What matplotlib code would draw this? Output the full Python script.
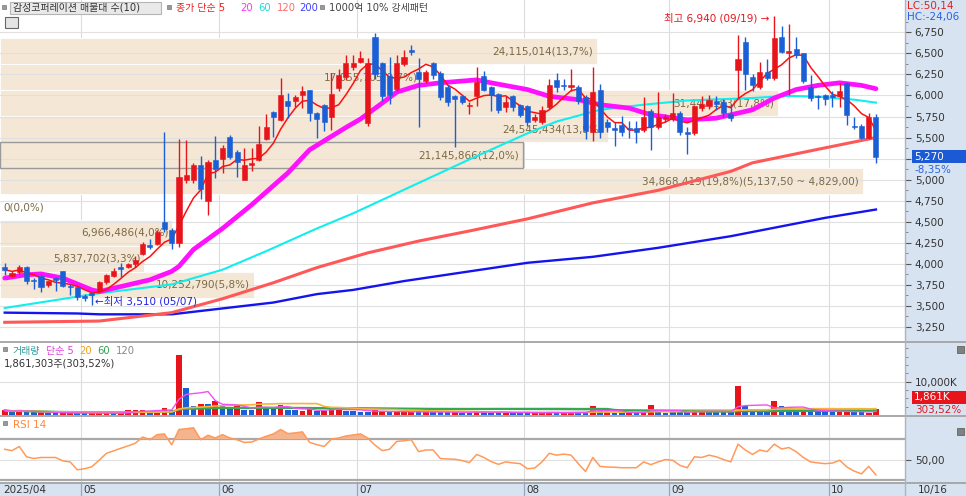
import numpy as np
import pandas as pd
import matplotlib
matplotlib.use("Agg")
import matplotlib.pyplot as plt
from matplotlib.patches import Rectangle
from matplotlib.lines import Line2D
import matplotlib.transforms as mtransforms

plt.rcParams['font.family'] = ['DejaVu Sans', 'Noto Sans CJK KR']
plt.rcParams['axes.unicode_minus'] = False

# ---------------- data ----------------
month_names = ['2025/04', '05', '06', '07', '08', '09', '10']
days_04 = [16, 17, 18, 21, 22, 23, 24, 25, 28, 29, 30]
days_05 = [2, 7, 8, 9, 12, 13, 14, 15, 16, 19, 20, 21, 22, 23, 26, 27, 28, 29, 30]
days_06 = [2, 4, 5, 9, 10, 11, 12, 13, 16, 17, 18, 19, 20, 23, 24, 25, 26, 27, 30]
days_07 = [1, 2, 3, 4, 7, 8, 9, 10, 11, 14, 15, 16, 17, 18, 21, 22, 23, 24, 25, 28, 29, 30, 31]
days_08 = [1, 4, 5, 6, 7, 8, 11, 12, 13, 14, 18, 19, 20, 21, 22, 25, 26, 27, 28, 29]
days_09 = [1, 2, 3, 4, 5, 8, 9, 10, 11, 12, 15, 16, 17, 18, 19, 22, 23, 24, 25, 26, 29, 30]
days_10 = [1, 2, 10, 13, 14, 15, 16]

opens = [3960, 3860, 3900, 3960, 3810, 3850, 3745, 3830, 3910, 3740,
         3720, 3620, 3650, 3680, 3780, 3850, 3960, 3960, 4000, 4120,
         4220, 4240, 4500, 4400, 4250, 4990, 5000, 5175, 4750, 5230,
         5240, 5510, 5330, 5000, 5170, 5230, 5480, 5800, 5710, 5940,
         5930, 6000, 6065, 5790, 5890, 5750, 6090, 6220, 6335, 6400,
         5670, 6700, 6380, 6230, 6080, 6370, 6540, 6280, 6170, 6380,
         6270, 6100, 5990, 5990, 5870, 5990, 6230, 6100, 6020, 5860,
         5990, 5890, 5870, 5710, 5690, 5860, 6180, 6120, 6100, 6100,
         5980, 5560, 6070, 5690, 5610, 5650, 5610, 5610, 5590, 5810,
         5630, 5720, 5720, 5790, 5570, 5550, 5850, 5880, 5930, 5920,
         5780, 6300, 6630, 6220, 6100, 6280, 6210, 6690, 6510, 6550,
         6500, 6100, 5995, 6000, 6000, 5990, 6150, 5640, 5640, 5500,
         5750]
highs = [4010, 3920, 3990, 3970, 3830, 3870, 3800, 3840, 3920, 3760,
         3730, 3640, 3670, 3800, 3880, 3950, 4010, 4010, 4090, 4260,
         4300, 4400, 5570, 4420, 5480, 5470, 5200, 5275, 5230, 5520,
         5410, 5530, 5350, 5370, 5370, 5640, 5780, 5810, 6210, 6030,
         6000, 6110, 6070, 5800, 5900, 6265, 6310, 6475, 6485, 6530,
         6450, 6740, 6400, 6460, 6480, 6540, 6600, 6450, 6300, 6400,
         6290, 6120, 6000, 6000, 5920, 6340, 6290, 6110, 6030, 5990,
         6000, 5900, 5890, 5780, 5870, 6190, 6270, 6200, 6320, 6130,
         6000, 6340, 6140, 5720, 5680, 5760, 5700, 5700, 5980, 5840,
         6040, 5780, 6030, 5810, 5620, 5880, 5990, 6000, 5990, 5960,
         5900, 6720, 6690, 6250, 6400, 6430, 6940, 6830, 6850, 6700,
         6510, 6240, 6010, 6020, 6050, 6150, 6160, 5740, 5660, 5790,
         5780]
lows = [3870, 3840, 3880, 3760, 3700, 3660, 3720, 3680, 3720, 3630,
        3570, 3560, 3510, 3660, 3760, 3840, 3840, 3950, 3960, 4100,
        4170, 4220, 4380, 4170, 4200, 4960, 4965, 4770, 4580, 5025,
        5080, 5250, 5030, 4990, 5100, 5220, 5470, 5510, 5700, 5730,
        5860, 5850, 5700, 5490, 5580, 5590, 6050, 6180, 6300, 6380,
        5640, 6200, 5940, 5900, 6050, 6350, 6480, 5620, 6150, 6200,
        5950, 5880, 5390, 5900, 5780, 5880, 6050, 5820, 5790, 5800,
        5820, 5750, 5640, 5680, 5660, 5840, 6040, 6060, 6050, 5900,
        5480, 5460, 5500, 5560, 5400, 5520, 5500, 5440, 5560, 5350,
        5600, 5680, 5700, 5530, 5300, 5530, 5820, 5840, 5830, 5740,
        5700, 5970, 6060, 6050, 6080, 6180, 6180, 6500, 6000, 6450,
        6150, 5940, 5840, 5890, 5860, 5860, 5650, 5600, 5480, 5480,
        5200]
closes = [3930, 3890, 3960, 3790, 3790, 3720, 3790, 3810, 3740, 3720,
          3600, 3590, 3630, 3780, 3870, 3910, 3940, 4000, 4050, 4240,
          4200, 4380, 4410, 4250, 5030, 5050, 5170, 4890, 5210, 5125,
          5380, 5270, 5210, 5170, 5200, 5420, 5630, 5740, 6000, 5880,
          5985, 6055, 5790, 5720, 5680, 6020, 6240, 6385, 6390, 6450,
          6390, 6250, 5990, 6000, 6390, 6460, 6520, 6200, 6280, 6240,
          5980, 5920, 5960, 5920, 5880, 6160, 6070, 6000, 5830, 5920,
          5860, 5770, 5680, 5750, 5830, 6120, 6100, 6110, 6120, 5930,
          5580, 6040, 5560, 5620, 5590, 5570, 5600, 5560, 5750, 5630,
          5740, 5740, 5790, 5570, 5540, 5870, 5900, 5950, 5900, 5790,
          5730, 6430, 6260, 6130, 6280, 6210, 6680, 6520, 6530, 6480,
          6170, 5970, 5980, 5960, 5985, 6050, 5770, 5620, 5500, 5750,
          5270]

# volume in thousand shares
volumes_k = [1400, 900, 1400, 900, 900, 800, 700, 600, 600, 600,
             600, 600, 600, 600, 600, 600, 700, 1400, 1400, 1600,
             900, 1300, 2200, 1400, 17900, 8100, 2600, 3300, 3300, 4300,
             2600, 2100, 2600, 1600, 1600, 3800, 2100, 2100, 3100, 1400,
             1400, 1300, 1800, 1300, 1300, 2100, 2100, 1300, 1300, 900,
             900, 1400, 1100, 900, 900, 1000, 900, 1100, 800, 800,
             900, 800, 1000, 700, 700, 1200, 800, 700, 900, 700,
             600, 700, 800, 600, 600, 900, 700, 600, 800, 800,
             1000, 2800, 1100, 800, 700, 600, 700, 700, 1000, 3100,
             1000, 700, 800, 900, 900, 1600, 1000, 1000, 900, 1000,
             1000, 8600, 2600, 1300, 1300, 1300, 4300, 2800, 1800, 1600,
             1400, 1300, 1200, 1200, 900, 1000, 1100, 900, 1000, 613.24,
             1861.303]
volume_colors = ("rbrbbrbbrr" "bbrrrbrrrr" "brrbrbbrbr" "bbrbbrbbrb" "brrbrrrbbb"
                 "brrbrrrbrb" "bbrbbrbbbr" "bbbrrrbrrb" "brbrbbrbrr" "bbbbbrrbbb"
                 "brbbbbrbbb" "rbbbbrrbbr" "r")

rsi14 = [60, 58.7, 62.7, 52.7, 51, 52, 52, 52, 48.7, 47.7,
         40, 41, 43, 49.3, 56, 58.5, 61, 63.3, 66, 72,
         69.3, 74.3, 75, 64.3, 79.3, 80, 81, 69.3, 73.7, 71,
         74.3, 71, 69.3, 66.7, 67, 70, 72.7, 75, 79.3, 75.3,
         76, 77, 66.7, 64.5, 62.7, 70, 71, 73, 74, 75,
         71, 64, 58.7, 60, 67.7, 68.3, 69.3, 57.7, 59.3, 59.3,
         51, 50.5, 50.3, 49, 47, 55, 52, 48, 45.3, 47.7,
         46.7, 46, 41, 41.7, 47.7, 56, 54.3, 55.3, 54.3, 46,
         38.3, 52, 43.3, 42.7, 42.5, 42, 42, 42, 47.7, 45,
         47.7, 50, 49.3, 44.3, 42, 52.7, 52, 54.3, 52.7, 50,
         47.7, 65, 59.3, 55, 59.3, 57.7, 65, 60.3, 61.7, 57.7,
         52, 47.7, 46.7, 46, 46.5, 49.3, 42.7, 38.7, 36, 43.3,
         35]

# moving averages (candle index, value)
ma20_idx = [0, 3, 5, 8, 12, 13, 16, 20, 23, 24, 26, 30, 34, 39, 42, 47, 49, 52, 54, 57,
            60, 65, 67, 72, 75, 79, 82, 86, 89, 94, 98, 103, 106, 109, 112, 115, 118, 120]
ma20_val = [3830, 3870, 3880, 3830, 3690, 3670, 3730, 3810, 3910, 3970, 4170, 4420, 4700, 5080,
            5355, 5620, 5720, 5910, 6040, 6120, 6150, 6185, 6150, 6070, 5990, 5950, 5890, 5850,
            5770, 5710, 5730, 5830, 5970, 6070, 6120, 6150, 6120, 6080]
ma60_idx = [0, 13, 23, 30, 36, 43, 48, 55, 64, 72, 76, 82, 88, 94, 103, 108, 112, 117, 120]
ma60_val = [3475, 3650, 3755, 3930, 4150, 4420, 4600, 4880, 5240, 5550, 5690, 5830, 5890, 5940,
            5970, 5995, 5985, 5950, 5915]
ma120_idx = [0, 13, 23, 30, 37, 43, 50, 57, 64, 72, 81, 90, 100, 103, 112, 120]
ma120_val = [3305, 3320, 3420, 3585, 3775, 3955, 4130, 4270, 4390, 4534, 4724, 4873, 5098, 5200,
             5360, 5500]
ma200_idx = [0, 10, 13, 23, 30, 37, 43, 48, 55, 64, 72, 81, 90, 100, 113, 120]
ma200_val = [3420, 3410, 3400, 3400, 3470, 3540, 3640, 3690, 3795, 3910, 4012, 4083, 4190, 4328,
             4546, 4645]

# supply zones (매물대), bottom to top
zone_low = 3595.0
zone_step = 308.5
zone_vols = [10252790, 5837702, 6966486, 0, 34868419, 21145866, 24545434, 31447183, 17055705, 24115014]

price_ticks = [3250, 3500, 3750, 4000, 4250, 4500, 4750, 5000, 5250, 5500, 5750, 6000, 6250, 6500, 6750]

# ---------------- derived ----------------
month_lists = [days_04, days_05, days_06, days_07, days_08, days_09, days_10]
dates, month_starts = [], []
for m, dl in zip(range(4, 11), month_lists):
    month_starts.append(len(dates))
    dates += [f"{m:02d}/{d:02d}" for d in dl]
n = len(dates)
idx = np.arange(n)
o = np.array(opens, float); h = np.array(highs, float)
l = np.array(lows, float); c = np.array(closes, float)
vol = np.array(volumes_k, float)
rsi = np.array(rsi14, float)

RED = '#e8141c'
BLUE = '#1a5fd6'
PANEL = '#d8e3f1'

W, H = 966, 496
fig = plt.figure(figsize=(W / 100, H / 100), dpi=100)
fig.patch.set_facecolor('white')


def fx(px):
    return px / W


def fy(py):
    return 1 - py / H


PR = 905
fig.patches.append(Rectangle((fx(PR), 0), 1 - fx(PR), 1, transform=fig.transFigure,
                             facecolor=PANEL, edgecolor='none', zorder=-5))
fig.patches.append(Rectangle((0, 0), 1, 13 / H, transform=fig.transFigure,
                             facecolor=PANEL, edgecolor='none', zorder=-5))

ax = fig.add_axes([0, fy(341), fx(PR), 341 / H])
axv = fig.add_axes([0, fy(416), fx(PR), 74 / H])
axr = fig.add_axes([0, fy(483), fx(PR), 66 / H])
axd = fig.add_axes([0, 0, fx(PR), 13 / H])

XL = (-0.65, 124.0)
for a in (ax, axv, axr, axd):
    a.set_xlim(*XL)
    a.set_xticks([])
    for s in a.spines.values():
        s.set_visible(False)
axd.set_facecolor(PANEL)
axd.set_yticks([])
axd.set_ylim(0, 1)

cur = c[-1]

# ---------------- main panel ----------------
ax.set_ylim(3083, 7134)
ax.yaxis.tick_right()
ax.set_yticks(price_ticks)
# the current-price box covers the tick label next to it
ax.set_yticklabels(["" if abs(v - cur) < 120 else f"{v:,}" for v in price_ticks])
ax.set_yticks([v + 125 for v in price_ticks], minor=True)
ax.tick_params(axis='y', which='major', direction='out', length=4, width=0.8, color='#555',
               labelsize=7.5, labelcolor='#333', pad=3)
ax.tick_params(axis='y', which='minor', direction='out', length=2, width=0.6, color='#777')

for s in month_starts[1:]:
    for a in (ax, axv, axr):
        a.axvline(s - 0.5, color='#dcdcdc', lw=0.8, zorder=0.3)
    axd.axvline(s - 0.5, color='#97a6ba', lw=0.9, zorder=1)
for v in price_ticks:
    ax.axhline(v, color='#e0e0e0', lw=0.8, zorder=1)

blend = mtransforms.blended_transform_factory(ax.transAxes, ax.transData)
maxv = max(zone_vols)
totv = sum(zone_vols)
full = 863 / PR
for k, v in enumerate(zone_vols):
    lo = zone_low + k * zone_step
    hi = lo + zone_step
    w = v / maxv * full
    ax.add_patch(Rectangle((0, lo), w, zone_step, transform=blend, facecolor='#f5e7d5',
                           edgecolor='white', lw=0.6, zorder=0.6))
    if lo <= cur < hi:
        ax.add_patch(Rectangle((0, lo), w, zone_step, transform=blend, facecolor='none',
                               edgecolor='#9a9a9a', lw=1.0, zorder=1.1))
    lab = f"{v:,}" + f"({v / totv * 100:.1f}%)".replace('.', ',')
    if v == maxv:
        lab += f"({hi:,.2f} ~ {lo:,.2f})".replace('.', ',')
    mid = (lo + hi) / 2
    if v > 0:
        ax.text(w - 4 / PR, mid, lab, transform=blend, ha='right', va='center',
                fontsize=7.5, color='#7c6a45', zorder=1.2)
    else:
        ax.text(3 / PR, mid, lab, transform=blend, ha='left', va='center',
                fontsize=7.5, color='#7c6a45', zorder=1.2)

# moving averages
ma5 = pd.Series(c).rolling(5, min_periods=1).mean()
ax.plot(ma200_idx, ma200_val, color='#1414ee', lw=1.7, zorder=2.1)
ax.plot(ma120_idx, ma120_val, color='#ff5858', lw=2.2, zorder=2.2)
ax.plot(ma60_idx, ma60_val, color='#10eeee', lw=1.5, zorder=2.3)
ax.plot(ma20_idx, ma20_val, color='#ff10ff', lw=3.4, zorder=2.4, solid_capstyle='round')
ax.plot(idx, ma5, color='#ff1010', lw=1.1, zorder=2.5)

# candles
ccol = np.where(c >= o, RED, BLUE)
ax.vlines(idx, l, h, colors=ccol, lw=1.0, zorder=3)
body = np.maximum(np.abs(c - o), 14)
ax.bar(idx, body, bottom=np.minimum(o, c), width=0.7, color=ccol, edgecolor=ccol,
       lw=0.4, zorder=3.1)

# high / low marks
ih = int(np.argmax(h)); il = int(np.argmin(l))
ax.text(ih - 0.7, h[ih] - 20, f"최고 {int(h[ih]):,} ({dates[ih]}) →", ha='right', va='center',
        fontsize=7.5, color=RED, zorder=5)
ax.text(il + 0.4, l[il] + 40, f"←최저 {int(l[il]):,} ({dates[il]})", ha='left', va='center',
        fontsize=7.5, color='#2222dd', zorder=5)

# current price box
x0 = 912 / PR
ax.add_patch(Rectangle((x0, cur - 78), (W - 912) / PR, 156, transform=blend, facecolor='#1b5ad4',
                       edgecolor='none', clip_on=False, zorder=6))
ax.text(x0 + 2 / PR, cur, f"{int(cur):,}", transform=blend, ha='left', va='center',
        fontsize=7.5, color='white', clip_on=False, zorder=7)
chg = (c[-1] / c[-2] - 1) * 100
ax.annotate(f"{chg:.2f}%".replace('.', ','), xy=(x0, cur), xycoords=blend,
            xytext=(3, -13), textcoords='offset pixels', ha='left', va='center',
            fontsize=7.5, color='#2a62e0', annotation_clip=False, zorder=7)

# ---------------- volume panel ----------------
axv.set_ylim(-300, 21900)
vcol = [RED if ch == 'r' else BLUE for ch in volume_colors]
axv.axhline(10000, color='#e0e0e0', lw=0.8, zorder=0.5)
axv.bar(idx, vol, width=0.78, color=vcol, zorder=2)
vs = pd.Series(vol)
for wnd, col, lw in [(120, '#aaaaaa', 1.0), (60, '#35a852', 1.6), (20, '#f5b53a', 1.2), (5, '#f050f0', 1.0)]:
    axv.plot(idx, vs.rolling(wnd, min_periods=1).mean(), color=col, lw=lw, zorder=3)
axv.yaxis.tick_right()
axv.set_yticks([10000])
axv.set_yticklabels(['10,000K'])
axv.set_yticks([2500, 5000, 7500, 12500, 15000, 17500, 20000], minor=True)
axv.tick_params(axis='y', which='major', direction='out', length=4, width=0.8, color='#555',
                labelsize=7.5, labelcolor='#333', pad=3)
axv.tick_params(axis='y', which='minor', direction='out', length=2, width=0.6, color='#777')
blv = mtransforms.blended_transform_factory(axv.transAxes, axv.transData)
axv.add_patch(Rectangle((x0, vol[-1] + 1500), (W - 912) / PR, 3800, transform=blv,
                        facecolor=RED, edgecolor='none', clip_on=False, zorder=6))
axv.text(x0 + 2 / PR, vol[-1] + 3400, f"{int(round(vol[-1])):,}K", transform=blv, ha='left',
         va='center', fontsize=7.5, color='white', clip_on=False, zorder=7)
vpct = vol[-1] / vol[-2] * 100
axv.text(x0 + 3 / PR, vol[-1] - 400, f"{vpct:.2f}%".replace('.', ','), transform=blv, ha='left',
         va='center', fontsize=7.5, color=RED, clip_on=False, zorder=7)

# ---------------- RSI panel ----------------
axr.set_ylim(27.1, 91.5)
axr.axhline(70, color='#a9a9a9', lw=1.6, zorder=1)
axr.axhline(30, color='#a9a9a9', lw=1.6, zorder=1)
axr.axhline(50, color='#e0e0e0', lw=0.8, zorder=1)
axr.fill_between(idx, rsi, 70, where=rsi >= 70, interpolate=True, color='#f4b48e', lw=0, zorder=2)
axr.plot(idx, rsi, color='#ff9a5a', lw=1.1, zorder=3)
axr.yaxis.tick_right()
axr.set_yticks([50])
axr.set_yticklabels(['50,00'])
axr.tick_params(axis='y', direction='out', length=4, width=0.8, color='#555',
                labelsize=7.5, labelcolor='#333', pad=3)

# ---------------- date band ----------------
for s, lab in zip(month_starts, month_names):
    axd.text(s - 0.5 + 0.3, 0.45, lab, ha='left', va='center', fontsize=7.5, color='#333')
fig.text(fx(918), fy(490), dates[-1], ha='left', va='center', fontsize=7.5, color='#333')

# ---------------- separators ----------------
for yy in (342, 416, 483):
    fig.add_artist(Line2D([0, 1], [fy(yy), fy(yy)], transform=fig.transFigure,
                          color='#a3a3a3', lw=1.3))
fig.add_artist(Line2D([fx(PR), fx(PR)], [0, 1], transform=fig.transFigure, color='#a9b5c6', lw=1.0))

# ---------------- legends / texts ----------------
def bullet(px, py):
    fig.patches.append(Rectangle((fx(px), fy(py + 2)), 4 / W, 4 / H, transform=fig.transFigure,
                                 facecolor='#9a9a9a', edgecolor='#777', lw=0.5, zorder=5))

bullet(2, 7)
fig.patches.append(Rectangle((fx(10), fy(14)), 151 / W, 12 / H, transform=fig.transFigure,
                             facecolor='#e9e9e9', edgecolor='#b5b5b5', lw=0.8, zorder=4))
fig.text(fx(13), fy(8), "감성코퍼레이션 매물대 수(10)", fontsize=7.2, color='#333', va='center', zorder=6)
bullet(167, 7)
parts = [(176, "종가 단순 5", '#ee2020'), (240, "20", '#ff30ff'), (258, "60", '#20d8d8'),
         (277, "120", '#ff6a6a'), (299, "200", '#4040ff')]
for px, t, col in parts:
    fig.text(fx(px), fy(8), t, fontsize=7.2, color=col, va='center')
bullet(320, 7)
fig.text(fx(329), fy(8), "1000억 10% 강세패턴", fontsize=7.2, color='#444', va='center')
# small icon
fig.patches.append(Rectangle((fx(5), fy(28)), 13 / W, 11 / H, transform=fig.transFigure,
                             facecolor='#e4e4e4', edgecolor='#666', lw=0.8, zorder=5))
for xx in (9, 12, 15):
    fig.add_artist(Line2D([fx(xx), fx(xx)], [fy(26), fy(19)], transform=fig.transFigure,
                          color='#777', lw=0.6))

fig.text(fx(907), fy(6), "LC:50,14", fontsize=7.5, color='#e02020', va='center')
fig.text(fx(907), fy(17), "HC:-24,06", fontsize=7.5, color='#2a62e0', va='center')

bullet(3, 349)
vparts = [(13, "거래량", '#2f9e9e'), (46, "단순 5", '#e040e0'), (79, "20", '#f0a020'),
          (97, "60", '#2fa050'), (116, "120", '#888888')]
for px, t, col in vparts:
    fig.text(fx(px), fy(351), t, fontsize=7.2, color=col, va='center')
fig.text(fx(4), fy(363), f"{int(round(vol[-1] * 1000)):,}주" + f"({vpct:.2f}%)".replace('.', ','),
         fontsize=7.2, color='#333', va='center')

bullet(3, 423)
fig.text(fx(13), fy(425), "RSI 14", fontsize=7.5, color='#ff8840', va='center')

for py in (346, 428):
    fig.patches.append(Rectangle((fx(957), fy(py + 7)), 7 / W, 7 / H, transform=fig.transFigure,
                                 facecolor='#808080', edgecolor='#555', lw=0.5, zorder=5))

fig.savefig("out.png", dpi=100)
